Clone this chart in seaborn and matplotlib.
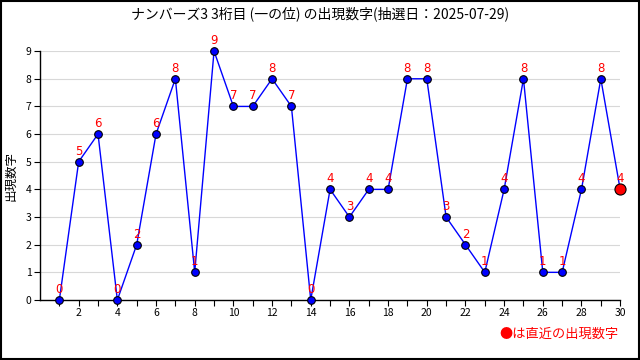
import matplotlib.pyplot as plt
import pandas as pd
import seaborn as sns
from matplotlib.patches import Rectangle

# 抽選回 (1..30) と一の位の出現数字
draws = list(range(1, 31))
digits = [0, 5, 6, 0, 2, 6, 8, 1, 9, 7, 7, 8, 7, 0, 4,
          3, 4, 4, 8, 8, 3, 2, 1, 4, 8, 1, 1, 4, 8, 4]
x_ticks = list(range(2, 31, 2))
y_ticks = list(range(0, 10))

title = 'ナンバーズ3 3桁目 (一の位) の出現数字(抽選日：2025-07-29)'
y_label = '出現数字'
note = '●は直近の出現数字'

df = pd.DataFrame({'draw': draws, 'digit': digits})

sns.set_theme(style='white')
plt.rcParams['font.family'] = ['Noto Sans CJK JP', 'DejaVu Sans']
plt.rcParams['text.color'] = 'black'
plt.rcParams['axes.labelcolor'] = 'black'
plt.rcParams['xtick.color'] = 'black'
plt.rcParams['ytick.color'] = 'black'

fig = plt.figure(figsize=(6.4, 3.6), dpi=100)
ax = fig.add_axes([0.0625, 0.1667, 0.9065, 0.6913])

sns.lineplot(data=df, x='draw', y='digit', ax=ax, color='#0000ff', lw=1,
             marker='o', markersize=5.5, markerfacecolor='#0000ff',
             markeredgecolor='black', markeredgewidth=0.8, clip_on=False,
             zorder=3)

last = df.iloc[-1]
ax.plot([last['draw']], [last['digit']], 'o', color='red', markersize=8,
        markeredgecolor='black', markeredgewidth=0.8, clip_on=False, zorder=4)

for x, y in zip(draws, digits):
    ax.annotate(str(y), (x, y), xytext=(0, 3), textcoords='offset points',
                ha='center', va='bottom', color='red', fontsize=8.5,
                family='DejaVu Sans', zorder=5)

ax.set_xlim(0, 30)
ax.set_ylim(0, 9)
ax.set_xticks(x_ticks)
ax.set_xticks(draws, minor=True)
ax.set_yticks(y_ticks)
ax.tick_params(axis='both', which='both', direction='out', length=4,
               width=0.8, color='black', labelcolor='black', labelsize=7.5,
               pad=2, bottom=True, left=True)
ax.yaxis.grid(True, color='#d8d8d8', lw=0.8)
ax.set_axisbelow(True)
for side in ['top', 'right']:
    ax.spines[side].set_visible(False)
for side in ['left', 'bottom']:
    ax.spines[side].set_color('black')
    ax.spines[side].set_linewidth(1)

ax.set_xlabel('')
ax.set_ylabel(y_label, fontsize=9, labelpad=6, color='black')
fig.text(0.5, 0.962, title, ha='center', va='center', fontsize=10,
         color='black')
fig.text(0.966, 0.07, note, ha='right', va='center', fontsize=9.5,
         color='red')

fig.add_artist(Rectangle((0.001, 0.002), 0.997, 0.996, transform=fig.transFigure,
                         fill=False, edgecolor='black', lw=1.5))

fig.savefig('out.png', dpi=100)
